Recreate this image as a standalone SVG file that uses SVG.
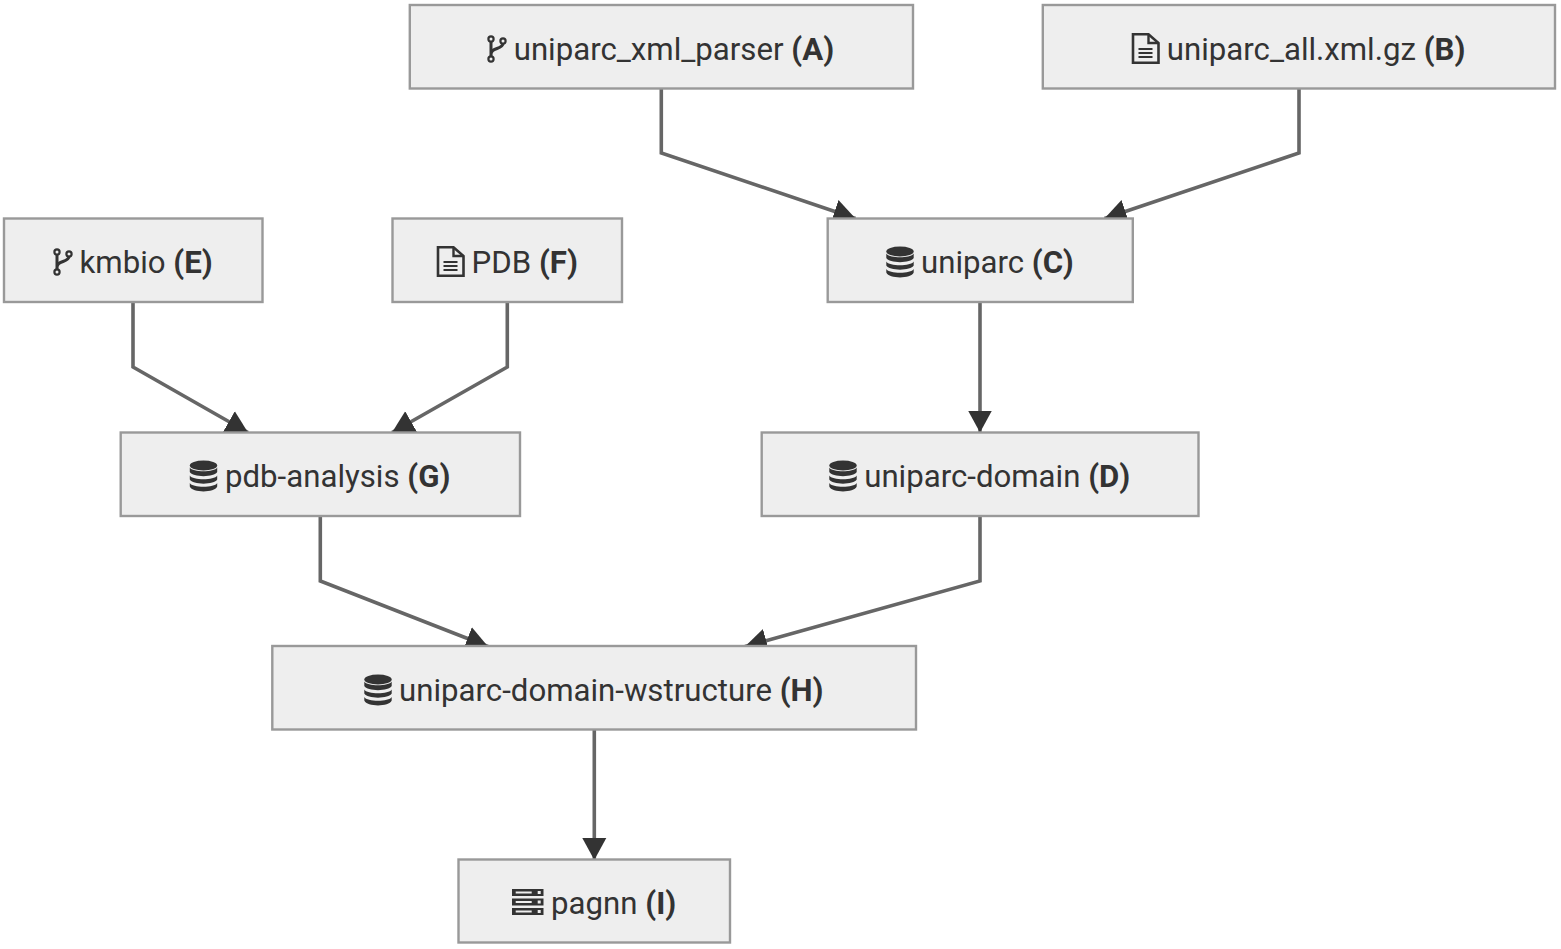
<svg xmlns="http://www.w3.org/2000/svg" width="1561" height="949" viewBox="0 0 1561 949">
<style>
.e{fill:none;stroke:#666;stroke-width:3.6}
.n rect.b{fill:#eee;stroke:#999;stroke-width:2.4}
.n text{font-family:Roboto,"Liberation Sans",sans-serif;font-size:31.2px;fill:#333}
.n text tspan{font-weight:700}
.i{fill:none;stroke:#333}
</style>
<defs>
<marker id="h" markerUnits="userSpaceOnUse" markerWidth="23" markerHeight="26" refX="22" refY="13" orient="auto"><path d="M0,1L22,13L0,25z" fill="#333"/></marker>
<g id="br" class="i" stroke-width="2.2"><circle cx="0" cy="-10" r="2.6"/><circle cx="0" cy="10" r="2.6"/><circle cx="12" cy="-8" r="2.6"/><path stroke-width="3" d="M0,-7.500V7.500M0,6C0,2 2,1 6,-0.500C10,-2 12,-3 12,-5.500"/></g>
<g id="fi" class="i"><path stroke-width="2.6" d="M-12,-13.700H3.500L13.500,-5V14.700H-12z"/><path stroke-width="2.400" d="M3.500,-13.700V-5H13.500"/><path stroke-width="2.200" d="M-6.500,1H7.500M-6.500,5H7.500M-6.500,9H7.500"/></g>
<g id="db" fill="#333"><ellipse cx="0" cy="-10.500" rx="13.700" ry="5"/><path d="M-13.700,-8.500C-11,-3.500 11,-3.500 13.700,-8.500V-4C11,1.500 -11,1.500 -13.700,-4z"/><path d="M-13.700,-0.500C-11,4.500 11,4.500 13.700,-0.500V3.500C11,9 -11,9 -13.700,3.500z"/><path d="M-13.700,7C-11,12 11,12 13.700,7V10.500C11,17 -11,17 -13.700,10.500z"/></g>
<g id="sv"><rect x="-15.700" y="-13" width="31.500" height="7" fill="#333"/><rect x="-15.700" y="-3.500" width="31.500" height="7" fill="#333"/><rect x="-15.700" y="6" width="31.500" height="7" fill="#333"/><path stroke="#eee" stroke-width="2" d="M-12,-9.500H4M-12,0H4M-12,9.500H4"/><path fill="#eee" d="M10,-11h3v3h-3zM10,-1.500h3v3h-3zM10,8h3v3h-3z"/></g>
</defs>
<g id="connectors">
<path class="e" marker-end="url(#h)" d="M661.300,89V153L855.500,218.500"/>
<path class="e" marker-end="url(#h)" d="M1299,89V153L1104.500,218.500"/>
<path class="e" marker-end="url(#h)" d="M980,302V432.500"/>
<path class="e" marker-end="url(#h)" d="M133,302V367L248,432.500"/>
<path class="e" marker-end="url(#h)" d="M507.300,302V367L392,432.500"/>
<path class="e" marker-end="url(#h)" d="M320.300,516V581L488,646.500"/>
<path class="e" marker-end="url(#h)" d="M980,516V581L745,646.500"/>
<path class="e" marker-end="url(#h)" d="M594.300,729V860"/>
</g>
<g id="A" class="n"><rect class="b" x="409.800" y="5" width="503.200" height="83.500"/><use href="#br" x="491" y="49"/><text x="513.700" y="60">uniparc_xml_parser <tspan>(A)</tspan></text></g>
<g id="B" class="n"><rect class="b" x="1042.800" y="5" width="512.200" height="83.500"/><use href="#fi" x="1145" y="48"/><text x="1166.800" y="60">uniparc_all.xml.gz <tspan>(B)</tspan></text></g>
<g id="C" class="n"><rect class="b" x="827.700" y="218.500" width="305.100" height="83.500"/><use href="#db" x="900" y="262"/><text x="921" y="273">uniparc <tspan>(C)</tspan></text></g>
<g id="D" class="n"><rect class="b" x="761.700" y="432.500" width="436.800" height="83.500"/><use href="#db" x="843" y="476"/><text x="864.200" y="487">uniparc-domain <tspan>(D)</tspan></text></g>
<g id="E" class="n"><rect class="b" x="4" y="218.500" width="258.500" height="83.500"/><use href="#br" x="57" y="262"/><text x="79.500" y="273">kmbio <tspan>(E)</tspan></text></g>
<g id="F" class="n"><rect class="b" x="392.500" y="218.500" width="229.500" height="83.500"/><use href="#fi" x="450" y="261"/><text x="471.600" y="273">PDB <tspan>(F)</tspan></text></g>
<g id="G" class="n"><rect class="b" x="120.700" y="432.500" width="399.300" height="83.500"/><use href="#db" x="203.500" y="476"/><text x="225" y="487">pdb-analysis <tspan>(G)</tspan></text></g>
<g id="H" class="n"><rect class="b" x="272.300" y="646" width="643.700" height="83.500"/><use href="#db" x="378" y="690"/><text x="399.100" y="701">uniparc-domain-wstructure <tspan>(H)</tspan></text></g>
<g id="I" class="n"><rect class="b" x="458.500" y="859.500" width="271.500" height="83"/><use href="#sv" x="527.700" y="902"/><text x="551.100" y="914">pagnn <tspan>(I)</tspan></text></g>
</svg>
